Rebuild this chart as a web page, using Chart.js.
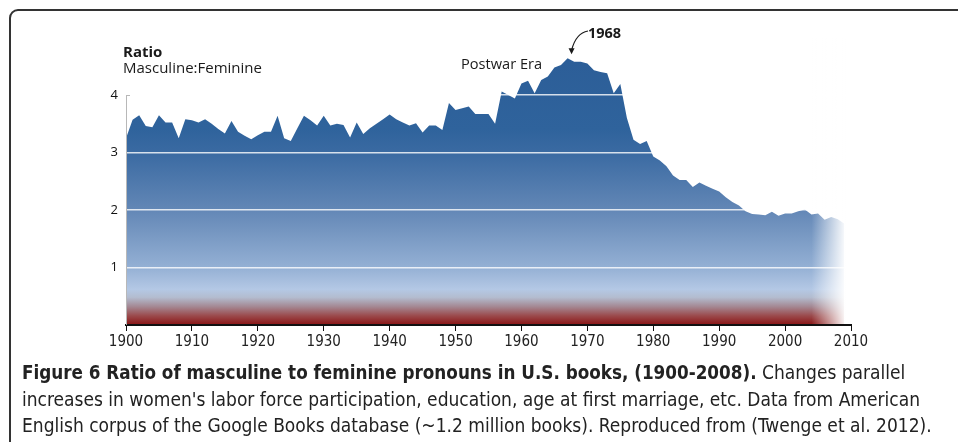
<!DOCTYPE html>
<html>
<head>
<meta charset="utf-8">
<script src="https://cdn.jsdelivr.net/npm/chart.js@4.4.1/dist/chart.umd.min.js"></script>
<style>
  html, body { margin: 0; padding: 0; background: #fff; overflow: hidden; }
  body { width: 958px; height: 442px; position: relative; }
  #frame {
    position: absolute; left: 9px; top: 9px; width: 1000px; height: 500px;
    border: 2px solid #333; border-top-left-radius: 9px; box-sizing: border-box;
  }
  #chart-wrap { position: absolute; left: 0; top: 0; width: 958px; height: 360px; }
  #caption {
    position: absolute; left: 22px; top: 359px;
    font-family: "Liberation Sans Narrow", "DejaVu Sans Condensed", sans-serif;
    font-size: 19px; line-height: 26px; color: #222; white-space: nowrap;
  }
  #caption b { font-weight: bold; font-size: 18.7px; }
</style>
</head>
<body>
<div id="frame"></div>
<div id="chart-wrap"><canvas id="ratio-chart" width="958" height="360"></canvas></div>
<div id="caption">
  <b>Figure 6 Ratio of masculine to feminine pronouns in U.S. books, (1900-2008).</b> Changes parallel<br>
  increases in women's labor force participation, education, age at first marriage, etc. Data from American<br>
  English corpus of the Google Books database (~1.2 million books). Reproduced from (Twenge et al. 2012).
</div>
<script>
// Masculine:feminine pronoun ratio

const years = [
  1900, 1901, 1902, 1903, 1904, 1905, 1906, 1907, 1908, 1909,
  1910, 1911, 1912, 1913, 1914, 1915, 1916, 1917, 1918, 1919,
  1920, 1921, 1922, 1923, 1924, 1925, 1926, 1927, 1928, 1929,
  1930, 1931, 1932, 1933, 1934, 1935, 1936, 1937, 1938, 1939,
  1940, 1941, 1942, 1943, 1944, 1945, 1946, 1947, 1948, 1949,
  1950, 1951, 1952, 1953, 1954, 1955, 1956, 1957, 1958, 1959,
  1960, 1961, 1962, 1963, 1964, 1965, 1966, 1967, 1968, 1969,
  1970, 1971, 1972, 1973, 1974, 1975, 1976, 1977, 1978, 1979,
  1980, 1981, 1982, 1983, 1984, 1985, 1986, 1987, 1988, 1989,
  1990, 1991, 1992, 1993, 1994, 1995, 1996, 1997, 1998, 1999,
  2000, 2001, 2002, 2003, 2004, 2005, 2006, 2007, 2008, 2009
];

const ratio = [
  3.25, 3.57, 3.65, 3.46, 3.44, 3.65, 3.52, 3.52, 3.25, 3.58,
  3.56, 3.52, 3.58, 3.50, 3.41, 3.33, 3.55, 3.36, 3.29, 3.23,
  3.30, 3.36, 3.36, 3.64, 3.25, 3.20, 3.42, 3.64, 3.56, 3.47,
  3.64, 3.47, 3.50, 3.48, 3.26, 3.52, 3.32, 3.42, 3.50, 3.58,
  3.66, 3.58, 3.52, 3.47, 3.51, 3.35, 3.47, 3.47, 3.39, 3.86,
  3.74, 3.77, 3.80, 3.67, 3.67, 3.67, 3.50, 4.06, 4.00, 3.94,
  4.20, 4.25, 4.03, 4.26, 4.32, 4.48, 4.52, 4.64, 4.58, 4.58,
  4.55, 4.43, 4.40, 4.38, 4.03, 4.19, 3.60, 3.22, 3.15, 3.20,
  2.93, 2.86, 2.76, 2.60, 2.52, 2.52, 2.40, 2.48, 2.42, 2.37,
  2.32, 2.22, 2.14, 2.08, 1.98, 1.93, 1.92, 1.91, 1.97, 1.90,
  1.94, 1.94, 1.98, 2.01, 1.92, 1.94, 1.83, 1.88, 1.84, 1.76
];

const yTicks = [1, 2, 3, 4];
const peakYear = 1967;
const peakLabel = '1968';

const textFont = '"Open Sans", "Noto Sans", sans-serif';
const narrowFont = '"Liberation Sans Narrow", "DejaVu Sans Condensed", sans-serif';

// vertical fill: blue on top, pale blue, then a red band at the base
function areaGradient(context) {
    const chart = context.chart;
    const area = chart.chartArea;
    if (!area) return '#2e6199';
    const y = chart.scales.y;
    const g = chart.ctx.createLinearGradient(0, area.top, 0, area.bottom);
    const stops = [
        [4.6, '#2c5e98'], [3.4, '#2f639c'], [3.0, '#3a6aa2'], [2.0, '#6387b6'],
        [1.0, '#94b0d4'], [0.62, '#b4c8e5'], [0.48, '#b3bccf'], [0.32, '#a48893'],
        [0.16, '#9b4a4c'], [0.0, '#8a1414']
    ];
    stops.forEach(([v, c]) => {
        const t = (y.getPixelForValue(v) - area.top) / (area.bottom - area.top);
        g.addColorStop(Math.min(1, Math.max(0, t)), c);
    });
    return g;
}

// white fade at the right end of the area
const rightFade = {
    id: 'rightFade',
    afterDatasetsDraw(chart) {
        const {ctx, chartArea: a, scales: {x}} = chart;
        const x0 = x.getPixelForValue(2004);
        const x1 = x.getPixelForValue(2009.3);
        const g = ctx.createLinearGradient(x0, 0, x1, 0);
        g.addColorStop(0, 'rgba(255,255,255,0)');
        g.addColorStop(1, 'rgba(255,255,255,1)');
        ctx.save();
        ctx.fillStyle = g;
        ctx.fillRect(x0, a.top, a.right - x0 + 2, a.bottom - a.top);
        ctx.restore();
    }
};

// y axis line, headings and the 1968 callout
const labels = {
    id: 'labels',
    afterDraw(chart) {
        const {ctx, scales: {x, y}} = chart;
        ctx.save();
        const ax = x.getPixelForValue(1900);
        ctx.strokeStyle = '#b8b8b8';
        ctx.lineWidth = 1;
        ctx.beginPath();
        ctx.moveTo(ax + 0.5, y.getPixelForValue(4));
        ctx.lineTo(ax + 0.5, y.getPixelForValue(0));
        ctx.moveTo(ax, y.getPixelForValue(4) + 0.5);
        ctx.lineTo(ax + 4, y.getPixelForValue(4) + 0.5);
        ctx.stroke();

        ctx.fillStyle = '#1a1a1a';
        ctx.textBaseline = 'alphabetic';
        ctx.font = 'bold 15px ' + textFont;
        ctx.fillText('Ratio', 123, 57);
        ctx.font = '15px ' + textFont;
        ctx.fillText('Masculine:Feminine', 123, 73);
        ctx.font = '14.6px ' + textFont;
        ctx.fillText('Postwar Era', 461, 69);
        ctx.font = 'bold 14.5px ' + textFont;
        ctx.fillText(peakLabel, 588, 38);

        const px = x.getPixelForValue(peakYear) + 4;
        const py = y.getPixelForValue(ratio[years.indexOf(peakYear)]) - 4;
        ctx.strokeStyle = '#1a1a1a';
        ctx.lineWidth = 1.2;
        ctx.beginPath();
        ctx.moveTo(588, 31);
        ctx.quadraticCurveTo(576, 33, px, py - 4);
        ctx.stroke();
        ctx.beginPath();
        ctx.moveTo(px, py);
        ctx.lineTo(px - 3, py - 6);
        ctx.lineTo(px + 3, py - 6);
        ctx.closePath();
        ctx.fill();
        ctx.restore();
    }
};

const ctx = document.getElementById('ratio-chart').getContext('2d');
new Chart(ctx, {
    type: 'line',
    data: {
        datasets: [{
            label: 'Ratio',
            data: years.map((yr, i) => ({ x: yr, y: ratio[i] })),
            borderWidth: 0,
            borderColor: 'rgba(0,0,0,0)',
            backgroundColor: areaGradient,
            fill: 'origin',
            tension: 0,
            pointRadius: 0
        }]
    },
    options: {
        responsive: false,
        animation: false,
        events: [],
        layout: { padding: { left: 0, right: 107, top: 37.5, bottom: 0 } },
        plugins: { legend: { display: false }, tooltip: { enabled: false } },
        scales: {
            x: {
                type: 'linear',
                min: 1900,
                max: 2010,
                z: 1,
                afterFit: s => { s.height = 35; },
                border: { display: true, color: '#111', width: 2, z: 1 },
                grid: { drawOnChartArea: false, drawTicks: true, tickLength: 6, color: '#111', lineWidth: 1, z: 1 },
                ticks: {
                    stepSize: 10,
                    padding: 2,
                    color: '#222',
                    font: { family: narrowFont, size: 15 },
                    maxRotation: 0,
                    autoSkip: false,
                    callback: v => String(v)
                }
            },
            y: {
                type: 'linear',
                min: 0,
                max: 5,
                z: 1,
                afterFit: s => { s.width = 126; },
                afterBuildTicks: s => { s.ticks = yTicks.map(v => ({ value: v })); },
                border: { display: false },
                // white with alpha, drawn over the fill: vanishes on the white page
                grid: { drawTicks: false, color: 'rgba(255,255,255,0.8)', lineWidth: 1.6, z: 1 },
                ticks: {
                    padding: 8,
                    color: '#111',
                    font: { family: textFont, size: 13 }
                }
            }
        }
    },
    plugins: [rightFade, labels]
});
</script>
</body>
</html>
